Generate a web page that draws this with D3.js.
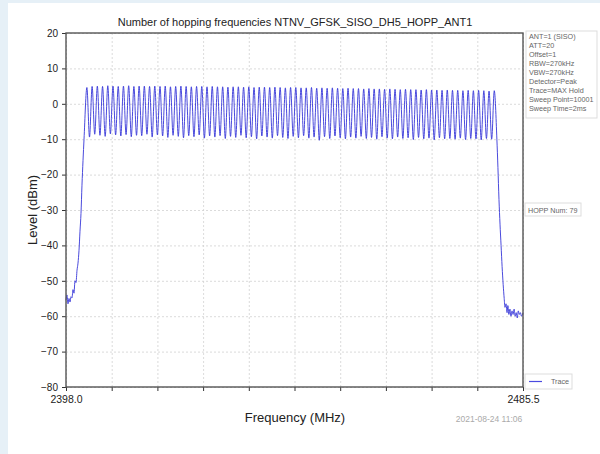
<!DOCTYPE html>
<html>
<head>
<meta charset="utf-8">
<script src="https://cdn.jsdelivr.net/npm/d3@7"></script>
<style>
  body { margin: 0; background: #fff; }
  svg { display: block; font-family: "Liberation Sans", Arial, sans-serif; }
  .grid line { stroke: #d2d2d2; stroke-dasharray: 2,2; stroke-width: 0.8; }
  .grid path { display: none; }
  .info text { fill: #666; font-size: 7.2px; }
</style>
</head>
<body>
<div id="chart"></div>
<script>
// chart texts
const title = "Number of hopping frequencies NTNV_GFSK_SISO_DH5_HOPP_ANT1";
const infoLines = ["ANT=1 (SISO)", "ATT=20", "Offset=1", "RBW=270kHz", "VBW=270kHz",
    "Detector=Peak", "Trace=MAX Hold", "Sweep Point=10001", "Sweep Time=2ms"];
const hoppLabel = "HOPP Num: 79";
const dateLabel = "2021-08-24 11:06";

// axes
const xStart = 2398.0, xStop = 2485.5;
const yTicks = [20, 10, 0, -10, -20, -30, -40, -50, -60, -70, -80];

// hopping channels 2402..2480 MHz, peak level of each (dBm)
const firstChannel = 2402;
const peaks = [4.6,4.9,5.0,4.9,5.1,5.0,4.9,5.0,5.1,4.9,
    5.0,5.0,4.9,5.0,4.9,5.0,4.8,4.9,5.0,4.9,
    4.8,4.9,4.9,4.8,4.9,4.8,4.8,4.7,4.8,4.8,
    4.7,4.8,4.6,4.7,4.7,4.6,4.7,4.6,4.5,4.6,
    4.6,4.5,4.5,4.6,4.4,4.5,4.4,4.5,4.4,4.3,
    4.4,4.3,4.3,4.2,4.3,4.2,4.2,4.1,4.2,4.1,
    4.0,4.1,4.0,4.0,3.9,4.0,3.9,3.9,3.8,3.9,
    3.8,3.8,3.7,3.8,3.7,3.8,3.7,3.6,3.7];

// dip between neighbouring channels (dBm)
const troughs = [-9.4,-8.6,-8.9,-9.2,-8.5,-8.8,-9.1,-8.7,-9.3,-8.9,
    -9.0,-8.6,-9.4,-8.8,-9.1,-9.5,-8.9,-9.2,-9.6,-9.0,
    -9.3,-8.8,-9.7,-9.1,-9.4,-9.0,-9.8,-9.2,-9.5,-8.9,
    -9.6,-9.3,-9.9,-9.1,-9.4,-9.7,-9.0,-9.5,-9.8,-9.2,
    -9.6,-9.0,-9.7,-9.4,-10.3,-9.3,-9.8,-9.1,-9.6,-9.9,
    -9.4,-9.7,-9.2,-9.8,-9.5,-10.0,-9.3,-9.7,-9.9,-9.4,
    -9.8,-9.6,-10.1,-9.5,-9.9,-9.7,-10.2,-9.6,-9.9,-9.8,
    -10.0,-9.7,-10.1,-9.8,-9.9,-10.2,-9.8,-10.0];

// band edges [MHz, dBm]
const leftSkirt = [[2398.0,-55.5],[2398.19,-54],[2398.38,-56.5],[2398.57,-55],[2398.77,-56],
    [2398.96,-54.5],[2399.15,-54.8],[2399.34,-52.5],[2399.53,-53.5],[2399.72,-50],
    [2399.91,-50.5],[2400.11,-47],[2400.3,-45],[2400.49,-41.4],[2400.68,-36],
    [2400.87,-31],[2401.06,-23],[2401.26,-16],[2401.45,-10]];
const rightSkirt = [[2480.5,-10],[2480.7,-18],[2480.9,-27],[2481.1,-34],[2481.3,-40],
    [2481.5,-46],[2481.7,-51],[2481.9,-55],[2482.05,-57.5],[2482.25,-56.5],
    [2482.45,-59],[2482.6,-57],[2482.8,-59.5],[2483.0,-58],[2483.2,-60],
    [2483.4,-58.5],[2483.6,-59.5],[2483.8,-58],[2484.0,-60],[2484.2,-59],
    [2484.4,-60.5],[2484.6,-58.5],[2484.8,-59.5],[2485.0,-59],[2485.2,-60],[2485.5,-59]];

// build trace points
var trace = leftSkirt.slice();
peaks.forEach((p, i) => {
    trace.push([firstChannel + i, p]);
    if (i < troughs.length) trace.push([firstChannel + i + 0.5, troughs[i]]);
});
trace = trace.concat(rightSkirt);

var W = 600, H = 454;
var margin = {top: 33, left: 66, right: 77, bottom: 67},
    width = W - margin.left - margin.right,
    height = H - margin.top - margin.bottom;

var svg = d3.select("#chart").append("svg")
    .attr("width", W)
    .attr("height", H);

// page background
svg.append("rect").attr("width", W).attr("height", H).attr("fill", "#e6f0f7");
svg.append("rect").attr("x", 8).attr("y", 3).attr("width", W - 8).attr("height", H - 3).attr("fill", "#fff");

var x = d3.scaleLinear().domain([xStart, xStop]).range([0, width]);
var y = d3.scaleLinear().domain([-80, 20]).range([height, 0]);
var xTicks = d3.range(11).map(i => xStart + i * (xStop - xStart) / 10);

var g = svg.append("g").attr("transform", `translate(${margin.left}, ${margin.top})`);

// grid
g.append("g").attr("class", "grid")
    .call(d3.axisBottom(x).tickValues(xTicks).tickSize(height).tickFormat(""));
g.append("g").attr("class", "grid")
    .call(d3.axisLeft(y).tickValues(yTicks).tickSize(-width).tickFormat(""));

// trace
g.append("path")
    .datum(trace)
    .attr("fill", "none")
    .attr("stroke", "#3535d8")
    .attr("stroke-width", 0.9)
    .attr("d", d3.line().x(d => x(d[0])).y(d => y(d[1])).curve(d3.curveMonotoneX));

// y axis
var yAxis = g.append("g")
    .call(d3.axisLeft(y).tickValues(yTicks).tickSize(4).tickPadding(4));
yAxis.select(".domain").remove();
yAxis.selectAll("line").attr("stroke", "#333");
yAxis.selectAll("text").attr("font-size", 10).attr("fill", "#222")
    .attr("font-family", "Liberation Sans, Arial, sans-serif");

// x axis, only end labels
var xAxis = g.append("g")
    .attr("transform", `translate(0, ${height})`)
    .call(d3.axisBottom(x).tickValues(xTicks).tickSize(4)
        .tickFormat((d, i) => (i == 0 || i == 10) ? d3.format(".1f")(d) : ""));
xAxis.select(".domain").remove();
xAxis.selectAll("line").attr("stroke", "#333");
xAxis.selectAll("text").attr("font-size", 10.5).attr("fill", "#222").attr("dy", "0.9em")
    .attr("font-family", "Liberation Sans, Arial, sans-serif");

// frame
g.append("rect")
    .attr("width", width).attr("height", height)
    .attr("fill", "none").attr("stroke", "#555").attr("stroke-width", 1.4);

// title and axis labels
svg.append("text").attr("x", 295).attr("y", 26).attr("text-anchor", "middle")
    .attr("font-size", 11).attr("fill", "#222").text(title);
svg.append("text").attr("x", 295).attr("y", 422).attr("text-anchor", "middle")
    .attr("font-size", 13).attr("fill", "#222").text("Frequency (MHz)");
svg.append("text").attr("transform", "translate(37, 210) rotate(-90)").attr("text-anchor", "middle")
    .attr("font-size", 13).attr("fill", "#222").text("Level (dBm)");
svg.append("text").attr("x", 489).attr("y", 422).attr("text-anchor", "middle")
    .attr("font-size", 8.5).attr("fill", "#aaa").text(dateLabel);

// settings box
var info = svg.append("g").attr("class", "info").attr("transform", "translate(526, 31)");
info.append("rect").attr("width", 71).attr("height", 87)
    .attr("fill", "#fff").attr("stroke", "#ddd");
info.selectAll("text").data(infoLines).enter()
    .append("text")
    .attr("x", 3)
    .attr("y", (d, i) => 8 + i * 9)
    .text(d => d);

// hop count box
var hopp = svg.append("g").attr("class", "info").attr("transform", "translate(525, 203)");
hopp.append("rect").attr("width", 56).attr("height", 13).attr("fill", "#fff").attr("stroke", "#ddd");
hopp.append("text").attr("x", 3).attr("y", 9.5).text(hoppLabel);

// legend
var legend = svg.append("g").attr("class", "info").attr("transform", "translate(525, 374)");
legend.append("rect").attr("width", 47).attr("height", 15).attr("fill", "#fff").attr("stroke", "#ddd");
legend.append("line").attr("x1", 4).attr("x2", 17).attr("y1", 7.5).attr("y2", 7.5)
    .attr("stroke", "#4a4ae0").attr("stroke-width", 1.2);
legend.append("text").attr("x", 26).attr("y", 10).text("Trace");
</script>
</body>
</html>
